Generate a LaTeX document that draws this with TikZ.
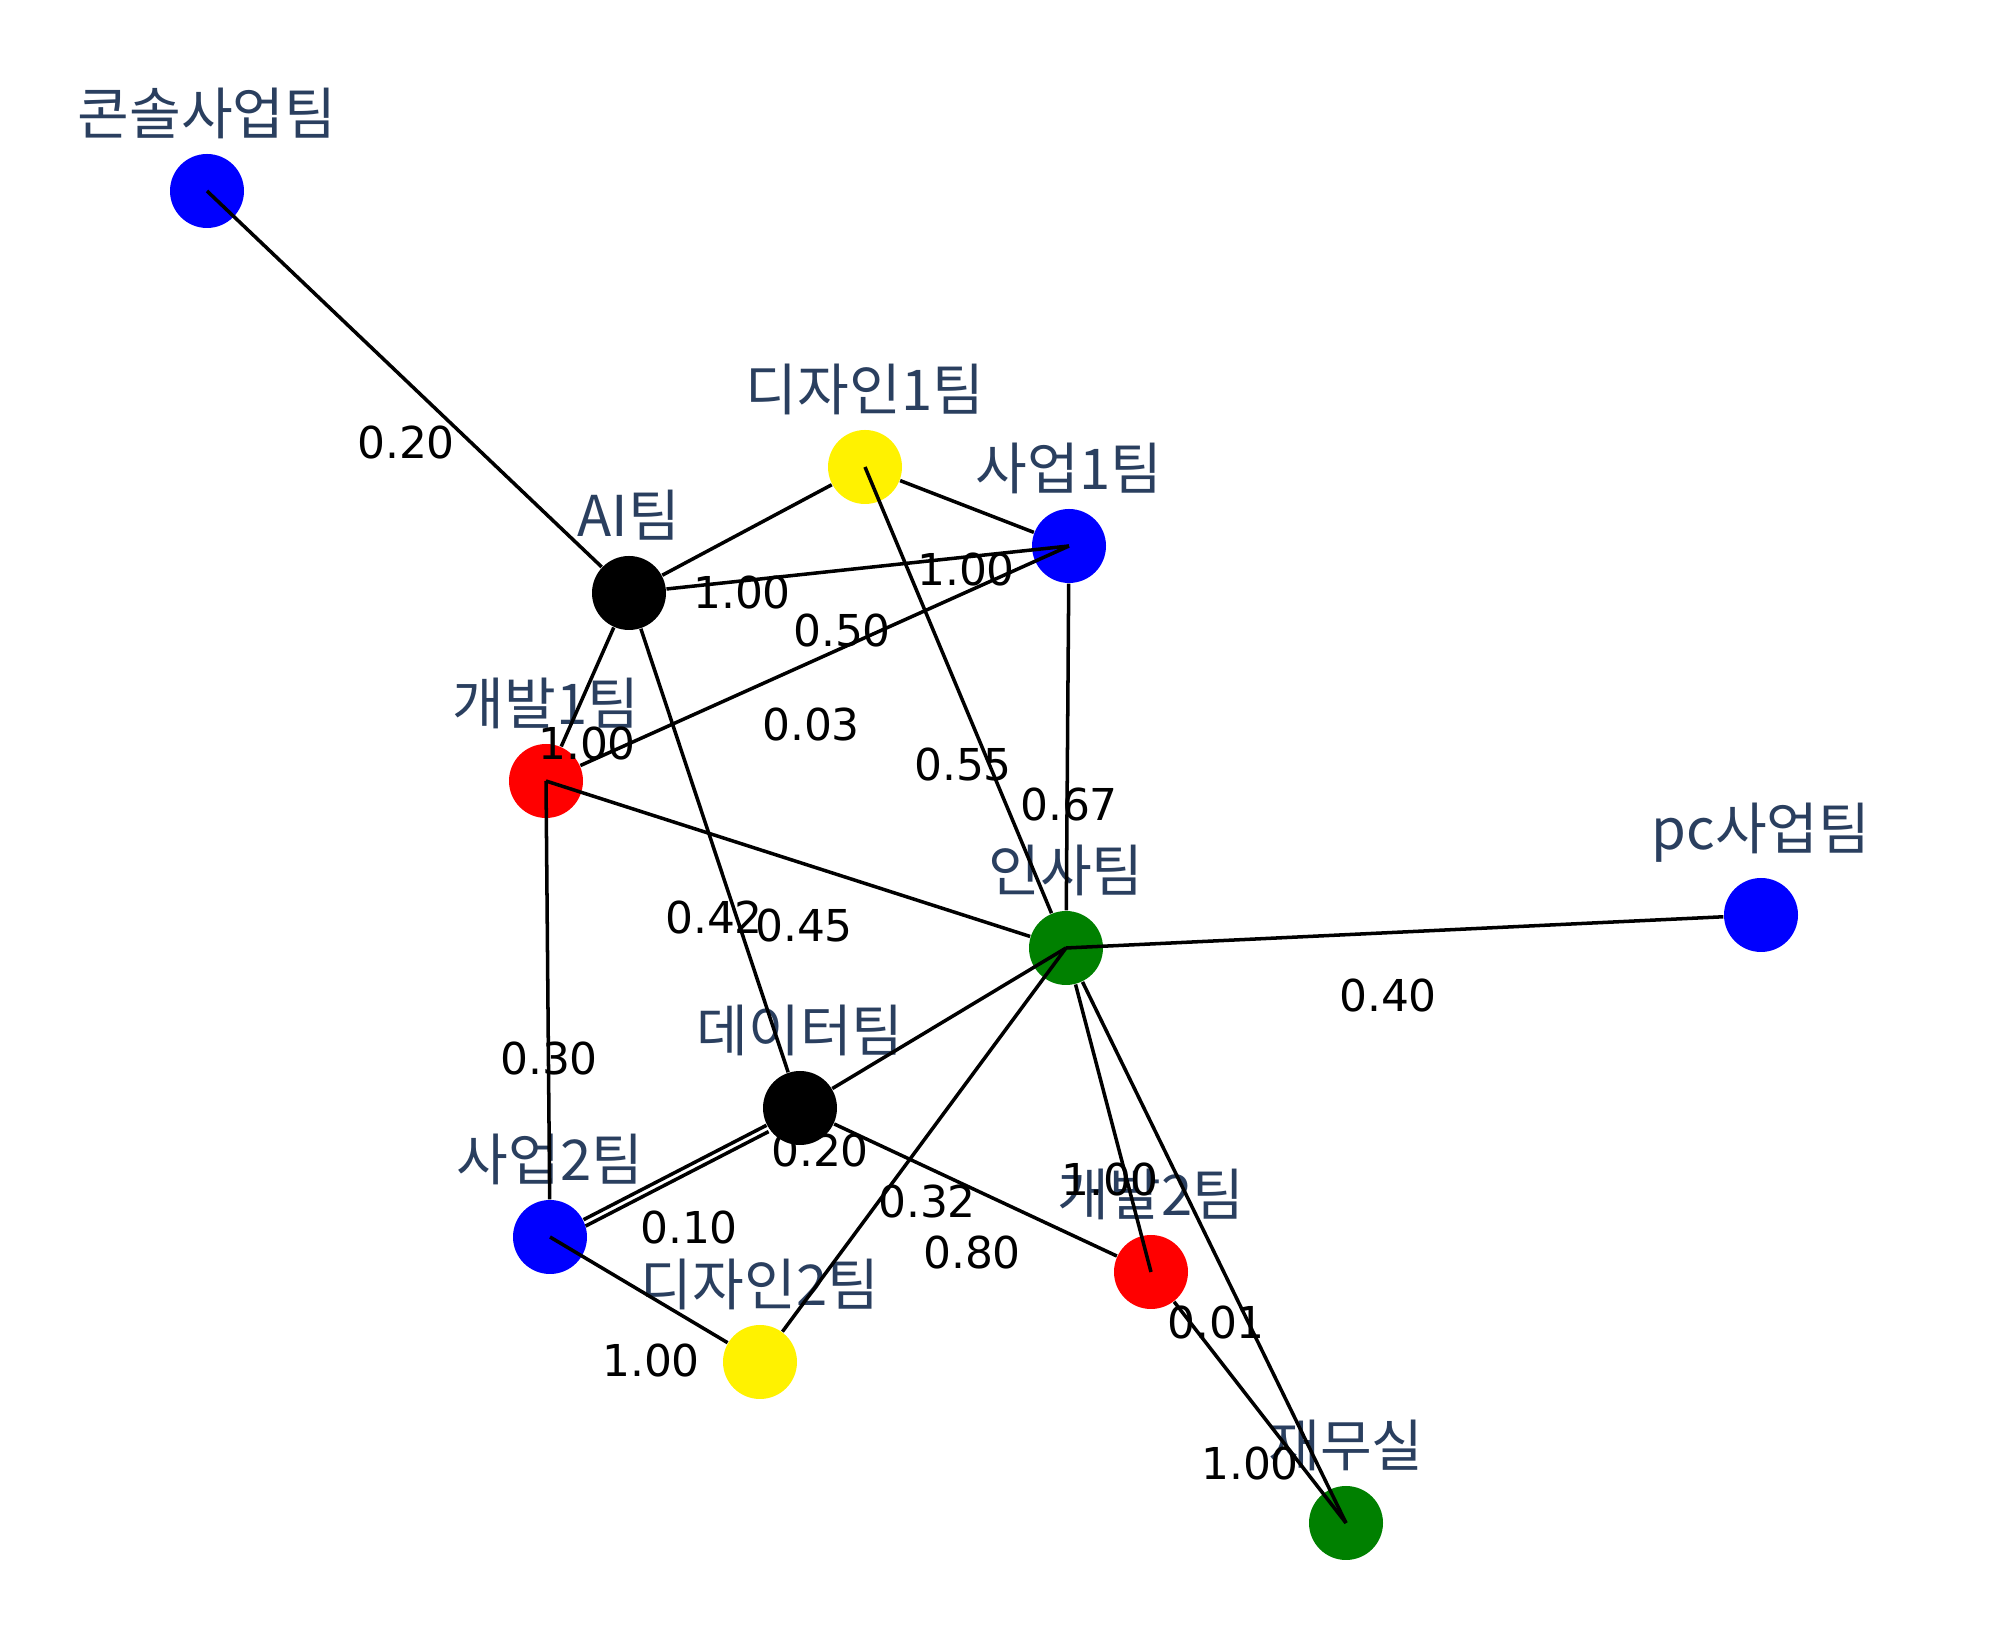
\documentclass[tikz,border=0pt]{standalone}
\usepackage{fontspec}
\setmainfont{DejaVu Sans}
\newfontfamily\kr{Noto Sans CJK KR}
\usetikzlibrary{positioning}

\definecolor{lblgray}{RGB}{42,63,95}
\definecolor{hrgreen}{RGB}{0,128,0}

\tikzset{
  team/.style={circle, minimum size=0.74cm, inner sep=0pt},
  lbl/.style={font=\kr\fontsize{16}{18}\selectfont, text=lblgray, inner sep=0pt, label distance=0.14cm},
  edge/.style={draw=black, line width=1pt},
  weight/.style={font=\fontsize{12.5}{14}\selectfont, inner sep=0pt}
}

\begin{document}
\begin{tikzpicture}
    \useasboundingbox (0,0) rectangle (20,16.25);
    % teams
    \node[team, fill=blue, label={[lbl, name=console-l]above:콘솔사업팀}] (console) at (2.07,14.34) {};
    \node[team, fill=black, label={[lbl, name=ai-l]above:AI팀}] (ai) at (6.29,10.32) {};
    \node[team, fill=yellow, label={[lbl, name=design1-l]above:디자인1팀}] (design1) at (8.65,11.58) {};
    \node[team, fill=blue, label={[lbl, name=sales1-l]above:사업1팀}] (sales1) at (10.69,10.79) {};
    \node[team, fill=red, label={[lbl, name=dev1-l]above:개발1팀}] (dev1) at (5.46,8.44) {};
    \node[team, fill=hrgreen, label={[lbl, name=hr-l]above:인사팀}] (hr) at (10.66,6.77) {};
    \node[team, fill=blue, label={[lbl, name=pc-l]above:pc사업팀}] (pc) at (17.61,7.10) {};
    \node[team, fill=black, label={[lbl, name=data-l]above:데이터팀}] (data) at (8.00,5.17) {};
    \node[team, fill=blue, label={[lbl, name=sales2-l]above:사업2팀}] (sales2) at (5.50,3.88) {};
    \node[team, fill=yellow, label={[lbl, name=design2-l]above:디자인2팀}] (design2) at (7.60,2.63) {};
    \node[team, fill=red, label={[lbl, name=dev2-l]above:개발2팀}] (dev2) at (11.51,3.53) {};
    \node[team, fill=hrgreen, label={[lbl, name=finance-l]above:재무실}] (finance) at (13.46,1.02) {};

    % links
    \draw[edge] (console.center) -- (ai);
    \draw[edge] (ai) -- (design1);
    \draw[edge] (ai) -- (sales1.center);
    \draw[edge] (dev1) -- (sales1.center);
    \draw[edge] (design1) -- (sales1);
    \draw[edge] (design1.center) -- (hr);
    \draw[edge] (sales1) -- (hr);
    \draw[edge] (ai) -- (dev1);
    \draw[edge] (ai) -- (data);
    \draw[edge] (dev1.center) -- (hr);
    \draw[edge] (dev1.center) -- (sales2);
    \draw[edge] (hr.center) -- (pc);
    \draw[edge] (data) -- (hr.center);
    \draw[edge] (sales2) -- (data);
    \draw[edge, transform canvas={shift={(0.6pt,-1.8pt)}}] (sales2) -- (data);
    \draw[edge] (sales2.center) -- (design2);
    \draw[edge] (design2) -- (hr.center);
    \draw[edge] (data) -- (dev2);
    \draw[edge] (hr) -- (dev2.center);
    \draw[edge] (hr) -- (finance.center);
    \draw[edge] (dev2) -- (finance.center);

    % weights
    \node[weight] (w1) at (4.06,11.82) {0.20};
    \node[weight] (w2) at (7.42,10.32) {1.00};
    \node[weight] (w3) at (9.66,10.55) {1.00};
    \node[weight] (w4) at (8.42,9.94) {0.50};
    \node[weight] (w5) at (8.11,9.00) {0.03};
    \node[weight] (w6) at (5.87,8.81) {1.00};
    \node[weight] (w7) at (9.63,8.60) {0.55};
    \node[weight] (w8) at (10.69,8.20) {0.67};
    \node[weight] (w9) at (7.14,7.07) {0.42};
    \node[weight] (w10) at (8.04,6.99) {0.45};
    \node[weight] (w11) at (5.49,5.66) {0.30};
    \node[weight] (w12) at (13.88,6.29) {0.40};
    \node[weight] (w13) at (8.20,4.74) {0.20};
    \node[weight] (w14) at (6.89,3.97) {0.10};
    \node[weight] (w15) at (9.27,4.23) {0.32};
    \node[weight] (w16) at (9.72,3.72) {0.80};
    \node[weight] (w17) at (11.10,4.45) {1.00};
    \node[weight] (w18) at (6.51,2.64) {1.00};
    \node[weight] (w19) at (12.16,3.02) {0.01};
    \node[weight] (w20) at (12.50,1.61) {1.00};
\end{tikzpicture}
\end{document}
